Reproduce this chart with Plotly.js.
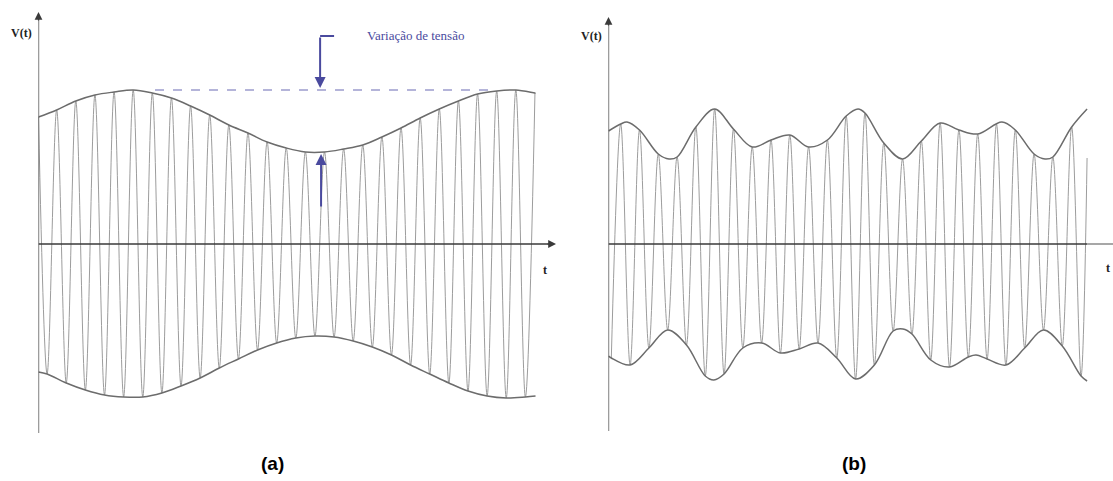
<!DOCTYPE html>
<html><head><meta charset="utf-8">
<script src="https://cdn.plot.ly/plotly-3.0.1.min.js"></script>
<style>html,body{margin:0;padding:0;background:#fff}#chart{width:1113px;height:481px}</style>
</head><body><div id="chart"></div>
<script>
// ---------- Panel (a): carrier extremes (t in carrier periods, V in arbitrary units) ----------
const tPeaksA = [0.95,1.95,2.95,3.95,4.95,5.95,6.95,7.95,8.95,9.95,10.95,11.95,12.95,13.95,14.95,15.95,16.95,17.95,18.95,19.95,20.95,21.95,22.95,23.95,24.95,25.95];
const vPeaksA = [1.34,1.43,1.49,1.52,1.54,1.51,1.46,1.38,1.29,1.19,1.11,1.02,0.96,0.92,0.92,0.95,0.99,1.07,1.16,1.26,1.35,1.43,1.50,1.53,1.54,1.51];
const tTroughsA = [0.45,1.45,2.45,3.45,4.45,5.45,6.45,7.45,8.45,9.45,10.45,11.45,12.45,13.45,14.45,15.45,16.45,17.45,18.45,19.45,20.45,21.45,22.45,23.45,24.45,25.45];
const vTroughsA = [-1.30,-1.39,-1.46,-1.51,-1.53,-1.53,-1.49,-1.42,-1.34,-1.24,-1.15,-1.06,-0.99,-0.94,-0.92,-0.93,-0.97,-1.03,-1.11,-1.21,-1.30,-1.39,-1.47,-1.52,-1.54,-1.53];
const tEdgeA = [0, 25.98];
const vUpperEdgeA = [1.27, 1.51];
const vLowerEdgeA = [-1.28, -1.52];

// ---------- Panel (b) ----------
const tPeaksB = [0.65,1.65,2.65,3.65,4.65,5.65,6.65,7.65,8.65,9.65,10.65,11.65,12.65,13.65,14.65,15.65,16.65,17.65,18.65,19.65,20.65,21.65,22.65,23.65,24.65];
const vPeaksB = [1.20,1.14,0.90,0.87,1.17,1.35,1.15,0.97,1.04,1.09,0.97,1.04,1.28,1.31,1.01,0.85,1.03,1.21,1.14,1.10,1.20,1.14,0.90,0.87,1.17];
const tTroughsB = [0.15,1.15,2.15,3.15,4.15,5.15,6.15,7.15,8.15,9.15,10.15,11.15,12.15,13.15,14.15,15.15,16.15,17.15,18.15,19.15,20.15,21.15,22.15,23.15,24.15,25.15];
const vTroughsB = [-1.14,-1.21,-1.04,-0.86,-1.01,-1.32,-1.30,-1.04,-0.99,-1.09,-1.05,-0.99,-1.14,-1.35,-1.21,-0.87,-0.90,-1.16,-1.23,-1.13,-1.15,-1.21,-1.04,-0.86,-1.02,-1.32];
const tEndB = [25.47];
const vEndB = [0.86];
const tEnvUpB = [0,0.65,0.985,1.65,2.65,3.22,3.65,4.65,5.65,6.65,7.65,8.65,9.65,10.65,11.65,12.65,13.28,13.65,14.65,15.65,16.65,17.65,18.65,19.65,20.94,21.65,22.65,23.23,23.65,24.65,25.47];
const vEnvUpB = [1.13,1.20,1.22,1.14,0.90,0.85,0.87,1.17,1.35,1.15,0.97,1.04,1.09,0.97,1.04,1.28,1.35,1.31,1.01,0.85,1.03,1.21,1.14,1.10,1.22,1.14,0.90,0.85,0.87,1.17,1.35];
const tEnvLoB = [0,0.15,1.15,2.15,3.15,4.15,5.15,5.61,6.15,7.15,8.15,9.15,10.15,11.15,12.15,13.15,14.15,15.15,15.67,16.15,17.15,18.15,19.15,19.56,20.15,21.15,22.15,23.15,24.15,25.15,25.47];
const vEnvLoB = [-1.12,-1.14,-1.21,-1.04,-0.86,-1.01,-1.32,-1.36,-1.30,-1.04,-0.99,-1.09,-1.05,-0.99,-1.14,-1.35,-1.21,-0.87,-0.85,-0.90,-1.16,-1.23,-1.13,-1.11,-1.15,-1.21,-1.04,-0.86,-1.02,-1.32,-1.37];

// ---------- Text ----------
const panelLabels = ['(a)', '(b)'];
const yLabel = 'V(t)';
const xLabel = 't';
const noteText = 'Variação de tensão';

function merge(lists) {
  const pts = [];
  lists.forEach(([ts, vs]) => ts.forEach((t, i) => pts.push([t, vs[i]])));
  pts.sort((a, b) => a[0] - b[0]);
  return {x: pts.map(p => p[0]), y: pts.map(p => p[1])};
}

const carrierA = merge([[tPeaksA, vPeaksA], [tTroughsA, vTroughsA], [[tEdgeA[0]], [vUpperEdgeA[0]]]]);
const upA = merge([[tPeaksA, vPeaksA], [tEdgeA, vUpperEdgeA]]);
const loA = merge([[tTroughsA, vTroughsA], [tEdgeA, vLowerEdgeA]]);
const carrierB = merge([[tPeaksB, vPeaksB], [tTroughsB, vTroughsB], [tEndB, vEndB]]);

const carStyle = {color: '#9c9c9c', width: 1, shape: 'spline', smoothing: 1};
const envStyle = {color: '#6c6c6c', width: 1.5, shape: 'spline', smoothing: 1};

const traces = [
  {x: carrierA.x, y: carrierA.y, mode: 'lines', line: carStyle, xaxis: 'x', yaxis: 'y'},
  {x: upA.x, y: upA.y, mode: 'lines', line: envStyle, xaxis: 'x', yaxis: 'y'},
  {x: loA.x, y: loA.y, mode: 'lines', line: envStyle, xaxis: 'x', yaxis: 'y'},
  {x: carrierB.x, y: carrierB.y, mode: 'lines', line: carStyle, xaxis: 'x2', yaxis: 'y2'},
  {x: tEnvUpB, y: vEnvUpB, mode: 'lines', line: envStyle, xaxis: 'x2', yaxis: 'y2'},
  {x: tEnvLoB, y: vEnvLoB, mode: 'lines', line: envStyle, xaxis: 'x2', yaxis: 'y2'}
];

const W = 1113, H = 481;
const px = v => v / W, py = v => 1 - v / H;
const axColor = '#3a3a3a';
const blue = '#4a4a9e';
const serif = '"Liberation Serif", "Times New Roman", "DejaVu Serif", serif';
const hidden = {visible: false, fixedrange: true};

const layout = {
  width: W, height: H,
  margin: {l: 0, r: 0, t: 0, b: 0},
  paper_bgcolor: '#fff', plot_bgcolor: 'rgba(0,0,0,0)',
  showlegend: false,
  xaxis: Object.assign({domain: [px(38.5), px(556)], range: [0, 27.05]}, hidden),
  yaxis: Object.assign({domain: [py(433), py(12)], range: [-1.89, 2.32]}, hidden),
  xaxis2: Object.assign({domain: [px(608.5), 1], range: [0, 26.85], anchor: 'y2'}, hidden),
  yaxis2: Object.assign({domain: [py(431), py(17)], range: [-1.87, 2.27], anchor: 'x2'}, hidden),
  shapes: [
    {type: 'line', xref: 'x', yref: 'y', x0: 0, x1: 0, y0: -1.89, y1: 2.28, line: {color: axColor, width: 1.3}},
    {type: 'line', xref: 'x', yref: 'y', x0: 0, x1: 26.95, y0: 0, y1: 0, line: {color: axColor, width: 1.5}},
    {type: 'line', xref: 'x2', yref: 'y2', x0: 0, x1: 0, y0: -1.87, y1: 2.23, line: {color: axColor, width: 1.3}},
    {type: 'line', xref: 'x2', yref: 'y2', x0: 0, x1: 25.47, y0: 0, y1: 0, line: {color: axColor, width: 1.5}},
    {type: 'line', xref: 'x2', yref: 'y2', x0: 25.47, x1: 26.85, y0: 0, y1: 0, line: {color: '#8a8a8a', width: 1.5}},
    {type: 'line', xref: 'x', yref: 'y', x0: 6.09, x1: 23.86, y0: 1.54, y1: 1.54, line: {color: '#6a6ab4', width: 1.2, dash: 'dash'}},
    {type: 'line', xref: 'x', yref: 'y', x0: 14.72, x1: 15.45, y0: 2.08, y1: 2.08, line: {color: blue, width: 2}}
  ],
  annotations: [
    {xref: 'x', yref: 'y', x: 0, y: 2.32, ax: 0, ay: 10, text: '', showarrow: true, arrowhead: 2, arrowsize: 1.3, arrowwidth: 1.2, arrowcolor: axColor},
    {xref: 'x', yref: 'y', x: 27.05, y: 0, ax: -10, ay: 0, text: '', showarrow: true, arrowhead: 2, arrowsize: 1.3, arrowwidth: 1.2, arrowcolor: axColor},
    {xref: 'x2', yref: 'y2', x: 0, y: 2.27, ax: 0, ay: 10, text: '', showarrow: true, arrowhead: 2, arrowsize: 1.3, arrowwidth: 1.2, arrowcolor: axColor},
    {xref: 'x', yref: 'y', x: 14.72, y: 1.56, axref: 'x', ayref: 'y', ax: 14.72, ay: 2.08, text: '', showarrow: true, arrowhead: 2, arrowsize: 1.1, arrowwidth: 2, arrowcolor: blue},
    {xref: 'x', yref: 'y', x: 14.77, y: 0.90, axref: 'x', ayref: 'y', ax: 14.77, ay: 0.36, text: '', showarrow: true, arrowhead: 2, arrowsize: 1.1, arrowwidth: 2, arrowcolor: blue},
    {xref: 'paper', yref: 'paper', x: px(365), y: py(35), xanchor: 'left', yanchor: 'middle', text: noteText, showarrow: false, font: {family: serif, size: 13, color: blue}},
    {xref: 'paper', yref: 'paper', x: px(21.5), y: py(33), xanchor: 'center', yanchor: 'middle', text: '<b>' + yLabel + '</b>', showarrow: false, font: {family: serif, size: 12, color: '#222'}},
    {xref: 'paper', yref: 'paper', x: px(591.5), y: py(36), xanchor: 'center', yanchor: 'middle', text: '<b>' + yLabel + '</b>', showarrow: false, font: {family: serif, size: 12, color: '#222'}},
    {xref: 'paper', yref: 'paper', x: px(545), y: py(270), xanchor: 'center', yanchor: 'middle', text: '<b>' + xLabel + '</b>', showarrow: false, font: {family: serif, size: 12, color: '#222'}},
    {xref: 'paper', yref: 'paper', x: px(1108), y: py(268), xanchor: 'center', yanchor: 'middle', text: '<b>' + xLabel + '</b>', showarrow: false, font: {family: serif, size: 12, color: '#222'}},
    {xref: 'paper', yref: 'paper', x: px(272), y: py(463), xanchor: 'center', yanchor: 'middle', text: '<b>' + panelLabels[0] + '</b>', showarrow: false, font: {family: '"Liberation Sans", Arial, sans-serif', size: 19, color: '#000'}},
    {xref: 'paper', yref: 'paper', x: px(854), y: py(463), xanchor: 'center', yanchor: 'middle', text: '<b>' + panelLabels[1] + '</b>', showarrow: false, font: {family: '"Liberation Sans", Arial, sans-serif', size: 19, color: '#000'}}
  ]
};

Plotly.newPlot('chart', traces, layout, {staticPlot: true, displayModeBar: false});
</script>
</body></html>
